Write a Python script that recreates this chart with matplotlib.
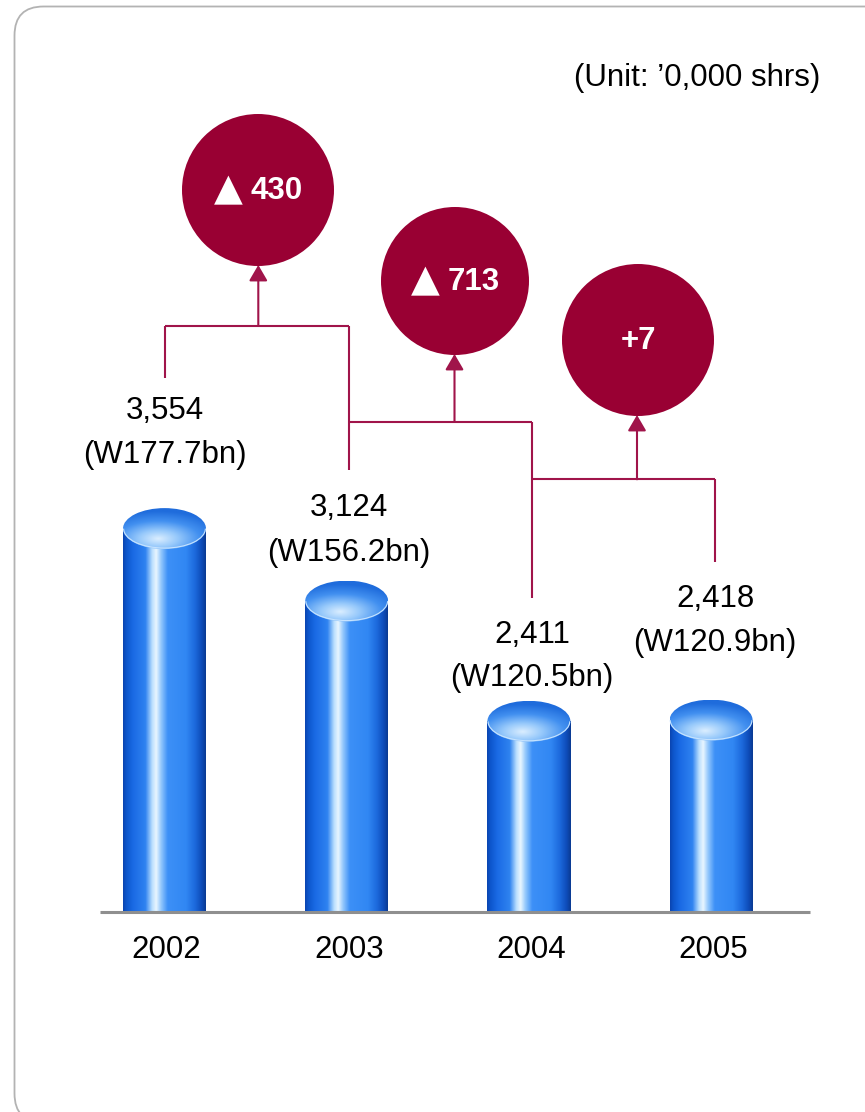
import numpy as np
import matplotlib
matplotlib.use("Agg")
import matplotlib.pyplot as plt
from matplotlib.patches import Ellipse, Circle, FancyBboxPatch, FancyArrowPatch, Arc
from matplotlib.colors import LinearSegmentedColormap, to_rgb

plt.rcParams['font.family'] = ['Liberation Sans', 'DejaVu Sans']

# ---- data ('0,000 shares) ----
years = ['2002', '2003', '2004', '2005']
shares = [3554, 3124, 2411, 2418]
amounts = ['(W177.7bn)', '(W156.2bn)', '(W120.5bn)', '(W120.9bn)']
change_signs = ['\u25b2', '\u25b2', '']
change_values = ['430', '713', '+7']
unit_text = "(Unit: \u20190,000 shrs)"

# ---- canvas / layout (pixels) ----
W, H = 865, 1112
BASE_PX = 912          # baseline, measured from the top
PX_PER_UNIT = 0.1686   # vertical scale of the bars
FLOOR = 1280           # value sitting on the baseline
X0_PX, STEP_PX = 164.5, 182.2
BAR_PX = 83
CAP_PX = 41
CRIMSON = '#990033'
LINE_C = '#a0144a'
FS = 22.5

fig = plt.figure(figsize=(W / 100, H / 100), dpi=100)

# background frame
bg = fig.add_axes([0, 0, 1, 1], zorder=0)
bg.set_xlim(0, W)
bg.set_ylim(H, 0)
bg.axis('off')
bg.add_patch(FancyBboxPatch((14.5, 6.5), W + 40, H + 10.5 - 6.5,
                            boxstyle='round,pad=0,rounding_size=29',
                            fc='white', ec='#b3b3b3', lw=1.3))

# bar axes: bottom edge on the baseline
ax = fig.add_axes([0, (H - BASE_PX) / H, 1, BASE_PX / H], zorder=1)
ax.set_xlim(-X0_PX / STEP_PX, (W - X0_PX) / STEP_PX)
ax.set_ylim(FLOOR, FLOOR + BASE_PX / PX_PER_UNIT)
ax.axis('off')

x = np.arange(len(years))
bw = BAR_PX / STEP_PX
cap_h = CAP_PX / PX_PER_UNIT

body_cmap = LinearSegmentedColormap.from_list('body', [
    (0.00, '#0a45b0'), (0.04, '#0d56cc'), (0.12, '#1a6ae4'),
    (0.27, '#2f83f0'), (0.35, '#b9defe'), (0.40, '#e9f6ff'),
    (0.46, '#92c7fc'), (0.54, '#3d90f7'), (0.76, '#3187f3'),
    (0.87, '#1c69dc'), (0.95, '#0e4cb9'), (1.00, '#0a3a92')])

bars = ax.bar(x, np.array(shares) - FLOOR, bottom=FLOOR, width=bw,
              color='none', edgecolor='none', zorder=2)
grad = np.linspace(0, 1, 256)[None, :]
for rect in bars:
    x0, y0 = rect.get_x(), rect.get_y()
    im = ax.imshow(grad, cmap=body_cmap, aspect='auto', origin='lower',
                   extent=(x0, x0 + rect.get_width(), y0, y0 + rect.get_height()),
                   zorder=2, interpolation='bilinear')
    im.set_clip_path(rect)

# elliptical tops with a soft highlight toward the front
u = np.linspace(-1, 1, 200)
v = np.linspace(-1, 1, 120)
U, V = np.meshgrid(u, v)
d = np.sqrt(((U + 0.15) / 1.55) ** 2 + ((V + 0.5) / 1.35) ** 2)
t = np.clip(d, 0, 1)
stops = [(0.0, '#dbeeff'), (0.3, '#97c9fb'), (0.65, '#4290f0'), (1.0, '#1f6cdc')]
pos = np.array([s[0] for s in stops])
cols = np.array([to_rgb(s[1]) for s in stops])
cap_img = np.dstack([np.interp(t, pos, cols[:, k]) for k in range(3)])

for xi, val in zip(x, shares):
    ell = Ellipse((xi, val), bw, cap_h, fc='none', ec='none', zorder=3)
    ax.add_patch(ell)
    im = ax.imshow(cap_img, aspect='auto', origin='lower',
                   extent=(xi - bw / 2, xi + bw / 2, val - cap_h / 2, val + cap_h / 2),
                   zorder=3, interpolation='bilinear')
    im.set_clip_path(ell)
    ax.add_patch(Arc((xi, val), bw * 0.985, cap_h * 0.95, theta1=200, theta2=340,
                     color='#c6e3ff', lw=0.8, zorder=4))

# baseline
bx0 = (100 - X0_PX) / STEP_PX
bx1 = (810 - X0_PX) / STEP_PX
ax.plot([bx0, bx1], [FLOOR, FLOOR], color='#8f8f8f', lw=2.2,
        solid_capstyle='butt', clip_on=False, zorder=5)

# year labels
for xi, yr in zip(x, years):
    ax.annotate(yr, (xi, FLOOR), xytext=(2, -38), textcoords='offset pixels',
                ha='center', va='center', fontsize=FS, color='black')

# ---- annotation layer (pixels) ----
ov = fig.add_axes([0, 0, 1, 1], zorder=2)
ov.set_xlim(0, W)
ov.set_ylim(H, 0)
ov.axis('off')

ov.text(697, 78, unit_text, ha='center', va='center', fontsize=FS, color='black')

leg_x = [165, 349.3, 532.3, 715]
num_y = [411, 508, 635, 599]
amt_y = [455, 553, 678, 643]
for lx, val, amt, ny, ay in zip(leg_x, shares, amounts, num_y, amt_y):
    ov.text(lx, ny, f'{val:,}', ha='center', va='center', fontsize=FS)
    ov.text(lx, ay, amt, ha='center', va='center', fontsize=FS)

# brackets joining consecutive years
seg_kw = dict(color=LINE_C, lw=1.5, solid_capstyle='butt')
join_y = [325.7, 421.7, 479.3]
leg_bottom = [378, 470, 598, 562]
ov.plot([leg_x[0], leg_x[1]], [join_y[0]] * 2, **seg_kw)
ov.plot([leg_x[1], leg_x[2]], [join_y[1]] * 2, **seg_kw)
ov.plot([leg_x[2], leg_x[3]], [join_y[2]] * 2, **seg_kw)
ov.plot([leg_x[0]] * 2, [join_y[0], leg_bottom[0]], **seg_kw)
ov.plot([leg_x[1]] * 2, [join_y[0], leg_bottom[1]], **seg_kw)
ov.plot([leg_x[2]] * 2, [join_y[1], leg_bottom[2]], **seg_kw)
ov.plot([leg_x[3]] * 2, [join_y[2], leg_bottom[3]], **seg_kw)

# change bubbles
bubbles = [(258.0, 190, 76), (455, 281, 74), (638, 340, 76)]
arrow_x = [258.3, 454.5, 637]
for (cx, cy, r), ax_x, jy, sign, num in zip(bubbles, arrow_x, join_y,
                                           change_signs, change_values):
    ov.add_patch(Circle((cx, cy), r, fc=CRIMSON, ec='none', zorder=3))
    if sign:
        ov.text(cx - 30, cy, sign, ha='center', va='center', fontsize=27,
                family='DejaVu Sans', color='white', zorder=4)
        ov.text(cx + 19, cy + 1, num, ha='center', va='center', fontsize=FS,
                fontweight='bold', color='white', zorder=4)
    else:
        ov.text(cx, cy + 1, num, ha='center', va='center', fontsize=FS,
                fontweight='bold', color='white', zorder=4)
    ov.add_patch(FancyArrowPatch((ax_x, jy), (ax_x, cy + r - 1),
                                 arrowstyle='-|>,head_length=0.6,head_width=0.35',
                                 mutation_scale=16, shrinkA=0, shrinkB=0,
                                 color=LINE_C, lw=1.5, zorder=2))

fig.savefig('out.png', dpi=100)
